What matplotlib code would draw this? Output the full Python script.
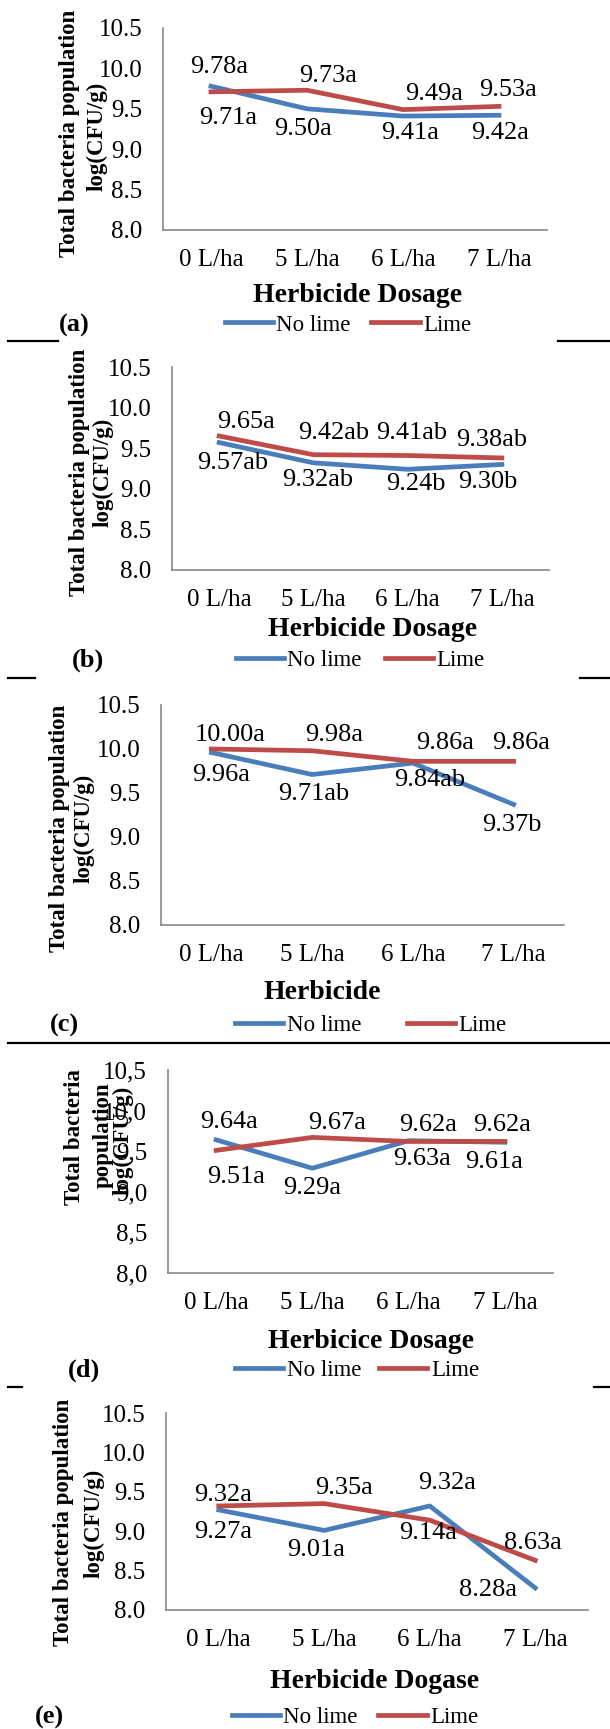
import matplotlib.pyplot as plt
from matplotlib.lines import Line2D

# Fuente tipo Times
plt.rcParams['font.family'] = ['Liberation Serif', 'DejaVu Serif']

W, H = 610, 1729  # tamaño en pixeles

dosage = ['0 L/ha', '5 L/ha', '6 L/ha', '7 L/ha']
y_ticks = [8.0, 8.5, 9.0, 9.5, 10.0, 10.5]
y_tick_dot = ['8.0', '8.5', '9.0', '9.5', '10.0', '10.5']
y_tick_comma = ['8,0', '8,5', '9,0', '9,5', '10,0', '10,5']
series_names = ['No lime', 'Lime']

# (a)
no_lime_a = [9.78, 9.50, 9.41, 9.42]
lime_a = [9.71, 9.73, 9.49, 9.53]
no_lime_lab_a = ['9.78a', '9.50a', '9.41a', '9.42a']
lime_lab_a = ['9.71a', '9.73a', '9.49a', '9.53a']

# (b)
no_lime_b = [9.57, 9.32, 9.24, 9.30]
lime_b = [9.65, 9.42, 9.41, 9.38]
no_lime_lab_b = ['9.57ab', '9.32ab', '9.24b', '9.30b']
lime_lab_b = ['9.65a', '9.42ab', '9.41ab', '9.38ab']

# (c)
no_lime_c = [9.96, 9.71, 9.84, 9.37]
lime_c = [10.00, 9.98, 9.86, 9.86]
no_lime_lab_c = ['9.96a', '9.71ab', '9.84ab', '9.37b']
lime_lab_c = ['10.00a', '9.98a', '9.86a', '9.86a']

# (d)
no_lime_d = [9.64, 9.29, 9.63, 9.61]
lime_d = [9.51, 9.67, 9.62, 9.62]
no_lime_lab_d = ['9.64a', '9.29a', '9.63a', '9.61a']
lime_lab_d = ['9.51a', '9.67a', '9.62a', '9.62a']

# (e)
no_lime_e = [9.27, 9.01, 9.32, 8.28]
lime_e = [9.32, 9.35, 9.14, 8.63]
no_lime_lab_e = ['9.27a', '9.01a', '9.32a', '8.28a']
lime_lab_e = ['9.32a', '9.35a', '9.14a', '8.63a']

x_titles = ['Herbicide Dosage', 'Herbicide Dosage', 'Herbicide',
            'Herbicice Dosage', 'Herbicide Dogase']
letters = ['(a)', '(b)', '(c)', '(d)', '(e)']

BLUE = '#4a7ebb'
RED = '#be4b48'


def fx(x):
    return x / W


def fy(y):
    return 1 - y / H


panels = [
    dict(box=(163, 547, 28, 230), nl=no_lime_a, li=lime_a, nl_lab=no_lime_lab_a, li_lab=lime_lab_a,
         nl_off=[(8, -19), (-4, 20), (7, 17), (1, 18)],
         li_off=[(17, 26), (21, -14), (31, -16), (9, -16)],
         ytl=y_tick_dot, xt=(358, 295), let=(74, 325), leg=(348, 325), colsp=0.9,
         ylab=[('Total bacteria population', 70, 133), ('log(CFU/g)', 97, 136)]),
    dict(box=(172, 549, 367, 570), nl=no_lime_b, li=lime_b, nl_lab=no_lime_lab_b, li_lab=lime_lab_b,
         nl_off=[(14, 20), (4, 17), (8, 15), (-14, 18)],
         li_off=[(27, -14), (20, -22), (4, -23), (-10, -18)],
         ytl=y_tick_dot, xt=(373, 630), let=(88, 660), leg=(360, 660), colsp=1.0,
         ylab=[('Total bacteria population', 80, 472), ('log(CFU/g)', 103, 472)]),
    dict(box=(161, 564, 705, 925), nl=no_lime_c, li=lime_c, nl_lab=no_lime_lab_c, li_lab=lime_lab_c,
         nl_off=[(10, 22), (2, 19), (17, 17), (-2, 21)],
         li_off=[(19, -14), (22, -16), (32, -18), (7, -18)],
         ytl=y_tick_dot, xt=(322, 993), let=(64, 1025), leg=(371, 1025), colsp=2.0,
         ylab=[('Total bacteria population', 59, 828), ('log(CFU/g)', 84, 828)]),
    dict(box=(168, 553, 1070, 1273), nl=no_lime_d, li=lime_d, nl_lab=no_lime_lab_d, li_lab=lime_lab_d,
         nl_off=[(13, -18), (0, 20), (13, 18), (-11, 20)],
         li_off=[(20, 27), (25, -14), (19, -16), (-3, -16)],
         ytl=y_tick_comma, xt=(371, 1342), let=(84, 1370), leg=(357, 1370), colsp=0.8,
         ylab=[('Total bacteria', 74, 1137), ('population', 103, 1135), ('log(CFU/g)', 123, 1140)]),
    dict(box=(166, 588, 1413, 1610), nl=no_lime_e, li=lime_e, nl_lab=no_lime_lab_e, li_lab=lime_lab_e,
         nl_off=[(4, 22), (-8, 20), (17, -23), (-47, 2)],
         li_off=[(4, -11), (20, -16), (-2, 13), (-2, -17)],
         ytl=y_tick_dot, xt=(375, 1682), let=(49, 1717), leg=(355, 1717), colsp=0.9,
         ylab=[('Total bacteria population', 64, 1522), ('log(CFU/g)', 94, 1523)]),
]

fig = plt.figure(figsize=(W / 100, H / 100), dpi=100)

for k, p in enumerate(panels):
    l, r, t, b = p['box']
    ax = fig.add_axes([fx(l), fy(b), (r - l) / W, (b - t) / H])
    x = range(len(dosage))
    ln1, = ax.plot(x, p['nl'], color=BLUE, lw=3.4, label=series_names[0])
    ln2, = ax.plot(x, p['li'], color=RED, lw=3.4, label=series_names[1])

    # etiquetas de los puntos
    for i in x:
        dx, dy = p['nl_off'][i]
        ax.annotate(p['nl_lab'][i], (i, p['nl'][i]), xytext=(dx, -dy), textcoords='offset pixels',
                    ha='center', va='center', fontsize=19)
        dx, dy = p['li_off'][i]
        ax.annotate(p['li_lab'][i], (i, p['li'][i]), xytext=(dx, -dy), textcoords='offset pixels',
                    ha='center', va='center', fontsize=19)

    ax.set_xlim(-0.5, 3.5)
    ax.set_ylim(8, 10.5)
    ax.set_xticks(list(x))
    ax.set_xticklabels(dosage)
    ax.set_yticks(y_ticks)
    ax.set_yticklabels(p['ytl'])
    ax.tick_params(axis='both', length=0)
    ax.tick_params(axis='y', pad=15, labelsize=18)
    ax.tick_params(axis='x', pad=14, labelsize=18)
    for s in ['top', 'right']:
        ax.spines[s].set_visible(False)
    for s in ['left', 'bottom']:
        ax.spines[s].set_color('#898989')
        ax.spines[s].set_linewidth(1.2)
    ax.set_facecolor('none')

    # titulo del eje x, letra y leyenda
    fig.text(fx(p['xt'][0]), fy(p['xt'][1]), x_titles[k], ha='center', va='center',
             fontsize=20, fontweight='bold')
    fig.text(fx(p['let'][0]), fy(p['let'][1]), letters[k], ha='center', va='center',
             fontsize=19, fontweight='bold')
    for txt, xx, yy in p['ylab']:
        fig.text(fx(xx), fy(yy), txt, rotation=90, ha='center', va='center',
                 fontsize=16.5, fontweight='bold')
    ax.legend(handles=[ln1, ln2], loc='center', bbox_to_anchor=(fx(p['leg'][0]), fy(p['leg'][1])),
              bbox_transform=fig.transFigure, ncol=2, frameon=False, fontsize=16.5,
              handlelength=2.1, handletextpad=0.15, columnspacing=p['colsp'], borderpad=0)

# lineas separadoras
sep = [
    (341, [(8, 58), (558, 610)]),
    (678, [(8, 35), (580, 610)]),
    (1043, [(8, 610)]),
    (1387, [(8, 22), (594, 610)]),
]
for yy, segs in sep:
    for x0, x1 in segs:
        fig.add_artist(Line2D([fx(x0), fx(x1)], [fy(yy), fy(yy)], color='black', lw=1.6,
                              transform=fig.transFigure))

fig.savefig('out.png', dpi=100, facecolor='white')
